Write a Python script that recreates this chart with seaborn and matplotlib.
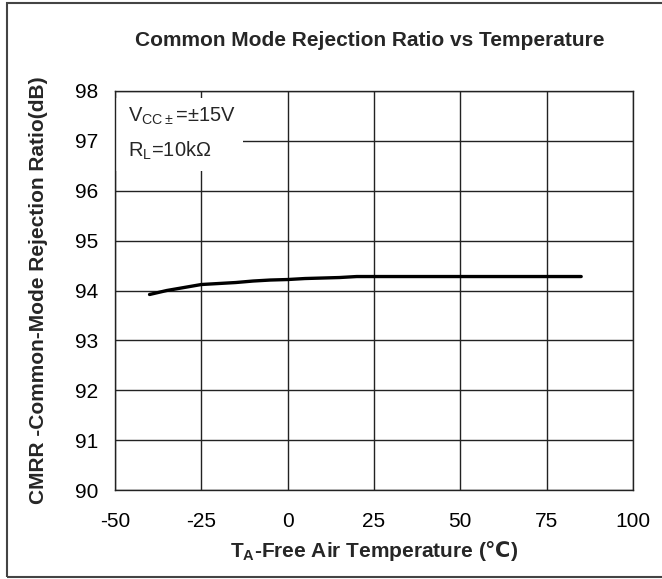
import matplotlib
matplotlib.use("Agg")
import matplotlib.pyplot as plt
import seaborn as sns
import pandas as pd
from matplotlib.patches import Rectangle

temps = [-40, -35, -30, -25, -20, -15, -10, -5, 0, 5, 10, 15, 20, 25, 50, 75, 85]
cmrr = [93.92, 94.0, 94.06, 94.12, 94.14, 94.16, 94.19, 94.21, 94.22, 94.24,
        94.25, 94.26, 94.28, 94.28, 94.28, 94.28, 94.28]
x_ticks = [-50, -25, 0, 25, 50, 75, 100]
y_ticks = [90, 91, 92, 93, 94, 95, 96, 97, 98]

sns.set_style("white")
plt.rcParams["font.family"] = ["Liberation Sans", "DejaVu Sans"]
plt.rcParams["axes.unicode_minus"] = False
plt.rcParams["mathtext.fontset"] = "custom"
plt.rcParams["mathtext.rm"] = "DejaVu Sans:bold"
plt.rcParams["mathtext.bf"] = "Liberation Sans:bold"

df = pd.DataFrame({"T": temps, "CMRR": cmrr})

fig = plt.figure(figsize=(6.62, 5.79), dpi=100)
ax = fig.add_axes([115 / 662, 1 - 490 / 579, 518 / 662, 399 / 579])

sns.lineplot(data=df, x="T", y="CMRR", color="black", linewidth=2.4, ax=ax, zorder=3)

ax.set_xlim(-50, 100)
ax.set_ylim(90, 98)
ax.set_xticks(x_ticks)
ax.set_yticks(y_ticks)
ax.set_axisbelow(True)
ax.grid(True, color="#222222", linewidth=1.0)
for s in ax.spines.values():
    s.set_color("#222222")
    s.set_linewidth(1.0)
ax.tick_params(direction="in", length=4, labelsize=15, colors="#222222")
ax.tick_params(axis="x", pad=16)
ax.tick_params(axis="y", pad=12)
for lab in ax.get_xticklabels() + ax.get_yticklabels():
    lab.set_color("black")

# white box behind the conditions text
ax.add_patch(Rectangle((0, 0.8), 128 / 518, 73 / 399, transform=ax.transAxes,
                       facecolor="white", edgecolor="none", zorder=2))
ax.text(13 / 518, 1 - 25 / 399, r"V$_{\mathregular{CC\pm}}$=$\mathregular{\pm}$15V",
        transform=ax.transAxes, fontsize=14.5, va="center", ha="left", zorder=4)
ax.text(13 / 518, 1 - 60 / 399, r"R$_{\mathregular{L}}$=10k$\mathregular{\Omega}$",
        transform=ax.transAxes, fontsize=14.5, va="center", ha="left", zorder=4)

ax.set_xlabel(r"T$_{\mathbf{A}}$-Free Air Temperature ($\mathrm{℃}$)",
              fontsize=15, fontweight="bold")
ax.set_ylabel("CMRR -Common-Mode Rejection Ratio(dB)", fontsize=15,
              fontweight="bold")
ax.xaxis.set_label_coords(0.5, (490 - 538) / 399)
ax.yaxis.set_label_coords((48 - 115) / 518, 0.5)
fig.text(370 / 662, 1 - 40 / 579, "Common Mode Rejection Ratio vs Temperature",
         fontsize=15, fontweight="bold", ha="center", va="center")

fig.patches.append(Rectangle((7 / 662, 2 / 579), 700 / 662, 574 / 579,
                             transform=fig.transFigure, fill=False,
                             edgecolor="#444444", linewidth=1.5))

fig.savefig("out.png", dpi=100)
